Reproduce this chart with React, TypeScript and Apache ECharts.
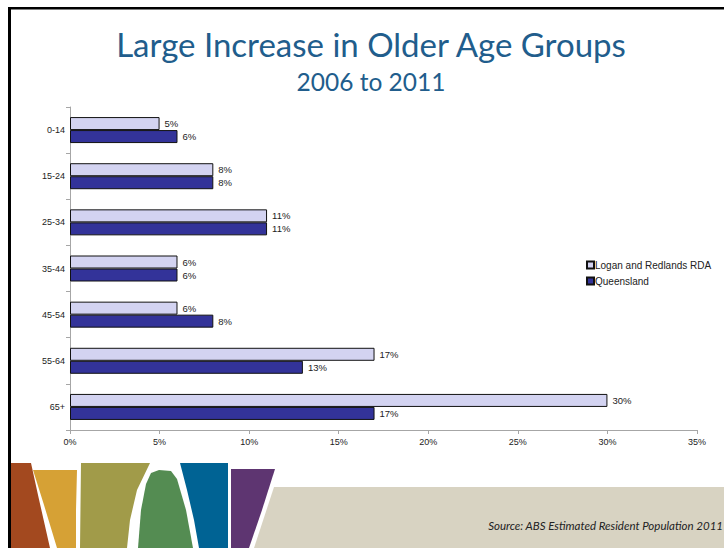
import React, { useEffect, useRef } from "react";
import * as echarts from "echarts";

const categories = ["0-14", "15-24", "25-34", "35-44", "45-54", "55-64", "65+"];
const loganRedlands = [5, 8, 11, 6, 6, 17, 30];
const queensland = [6, 8, 11, 6, 8, 13, 17];
const seriesNames = ["Logan and Redlands RDA", "Queensland"];
const titleText = "Large Increase in Older Age Groups";
const subtitleText = "2006 to 2011";
const sourceText = "Source: ABS Estimated Resident Population 2011";

const ARIAL = "'Liberation Sans', Arial, sans-serif";
const CAL = "Lato, 'Open Sans', sans-serif";

const poly = (points: number[][], fill: string) => ({
  type: "polygon",
  shape: { points },
  style: { fill },
  silent: true,
});

const barLabel = {
  show: true,
  position: "right",
  distance: 5,
  formatter: "{c}%",
  fontFamily: ARIAL,
  fontSize: 9.5,
  fontWeight: "normal",
  color: "#222",
};

export default function App() {
  const ref = useRef<HTMLDivElement>(null);
  useEffect(() => {
    document.body.style.margin = "0";
    const chart = echarts.init(ref.current!, undefined, { renderer: "svg" });
    chart.setOption({
      animation: false,
      backgroundColor: "#ffffff",
      grid: { left: 70, right: 27, top: 107, bottom: 118, containLabel: false },
      legend: {
        orient: "vertical",
        left: 581,
        top: 255,
        itemWidth: 7,
        itemHeight: 7,
        itemGap: 6,
        icon: "rect",
        textStyle: {
          fontFamily: ARIAL,
          fontSize: 10,
          fontWeight: "normal",
          color: "#222",
          padding: [0, 0, 0, -4],
        },
        data: seriesNames,
      },
      xAxis: {
        type: "value",
        min: 0,
        max: 35,
        interval: 5,
        axisLine: { show: true, lineStyle: { color: "#a6a6a6", width: 1 } },
        axisTick: { show: true, length: 4, lineStyle: { color: "#a6a6a6" } },
        splitLine: { show: false },
        axisLabel: {
          formatter: "{value}%",
          fontFamily: ARIAL,
          fontSize: 9,
          fontWeight: "normal",
          color: "#222",
          margin: 7,
        },
      },
      yAxis: {
        type: "category",
        data: categories,
        inverse: true,
        axisLine: { show: true, lineStyle: { color: "#a6a6a6", width: 1 } },
        axisTick: { show: true, length: 4, alignWithLabel: false, lineStyle: { color: "#a6a6a6" } },
        axisLabel: { fontFamily: ARIAL, fontSize: 9, fontWeight: "normal", color: "#222", margin: 5 },
      },
      series: [
        {
          name: seriesNames[0],
          type: "bar",
          data: loganRedlands,
          barWidth: 13,
          barGap: "0%",
          itemStyle: { color: "#d3d3f1", borderColor: "#111", borderWidth: 1 },
          label: barLabel,
        },
        {
          name: seriesNames[1],
          type: "bar",
          data: queensland,
          barWidth: 13,
          barGap: "0%",
          itemStyle: { color: "#333399", borderColor: "#111", borderWidth: 1 },
          label: barLabel,
        },
      ],
      graphic: [
        poly([[274, 487], [724, 487], [724, 548], [254, 548]], "#d8d3c2"),
        poly([[11, 463], [31, 463], [38, 495], [50, 548], [11, 548]], "#a3491f"),
        poly([[33, 470], [77, 470], [76, 510], [76, 548], [57, 548], [44, 505]], "#d6a135"),
        poly([[81, 463], [150, 463], [137, 490], [130, 520], [127, 548], [80, 548]], "#a19b49"),
        poly(
          [[138, 548], [141, 510], [146, 484], [151, 473], [159, 470], [171, 471], [177, 479], [186, 510], [193, 548]],
          "#548c52"
        ),
        poly([[180, 463], [228, 463], [228, 548], [199, 548], [194, 520], [187, 490]], "#006394"),
        poly([[231, 469], [275, 469], [262, 510], [249, 548], [231, 548]], "#5e3571"),
        { type: "rect", shape: { x: 8, y: 7, width: 716, height: 2.5 }, style: { fill: "#000" }, silent: true },
        { type: "rect", shape: { x: 8, y: 7, width: 3, height: 541 }, style: { fill: "#000" }, silent: true },
        {
          type: "text",
          x: 371,
          y: 44,
          style: {
            text: titleText,
            fontFamily: CAL,
            fontSize: 33,
            fill: "#215d8c",
            align: "center",
            verticalAlign: "middle",
          },
        },
        {
          type: "text",
          x: 371,
          y: 81,
          style: {
            text: subtitleText,
            fontFamily: CAL,
            fontSize: 24.5,
            fill: "#215d8c",
            align: "center",
            verticalAlign: "middle",
          },
        },
        {
          type: "text",
          x: 723,
          y: 525,
          style: {
            text: sourceText,
            fontFamily: CAL,
            fontSize: 11.5,
            fontStyle: "italic",
            fill: "#222",
            align: "right",
            verticalAlign: "middle",
          },
        },
      ],
    });
    return () => chart.dispose();
  }, []);
  return <div ref={ref} style={{ position: "absolute", left: 0, top: 0, width: 724, height: 548 }} />;
}
